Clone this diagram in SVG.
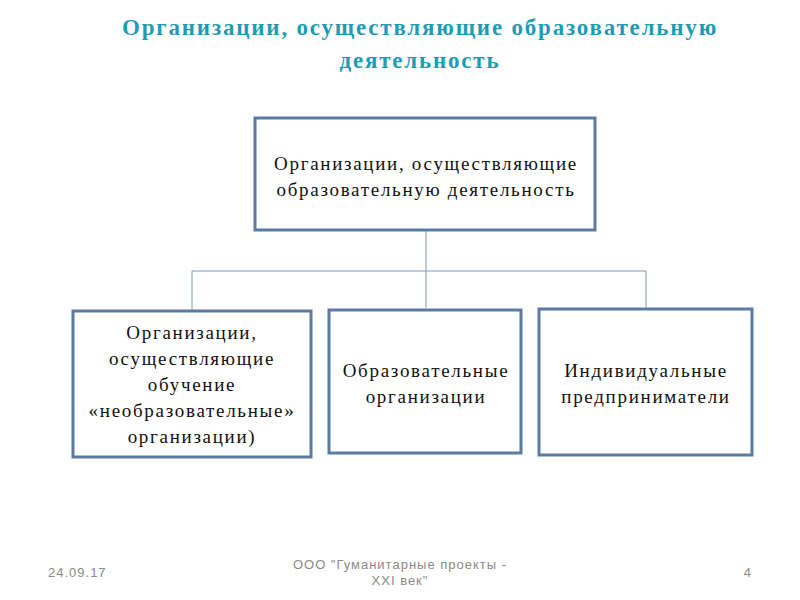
<svg xmlns="http://www.w3.org/2000/svg" width="800" height="600" viewBox="0 0 800 600">
<style>
.box{fill:#fff;stroke:#5b7ba3;stroke-width:3}
.t{font-family:"Liberation Serif",serif;font-size:19px;letter-spacing:1.7px;fill:#111;text-anchor:middle}
.ln{stroke:#7a9bb8;stroke-width:1;fill:none}
.f{font-family:"Liberation Sans",sans-serif;font-size:13px;letter-spacing:1px;fill:#8a8a8a}
.h{font-family:"Liberation Serif",serif;font-size:23px;letter-spacing:1.8px;font-weight:bold;fill:#1f9bb5;text-anchor:middle}
</style>
<rect width="800" height="600" fill="#fff"/>
<text class="h" x="420" y="35">Организации, осуществляющие образовательную</text>
<text class="h" x="420" y="68">деятельность</text>
<g id="connectors">
<path class="ln" d="M426 231V308M192 271H646M192 271V310M646 271V308"/>
</g>
<g id="root"><rect class="box" x="255" y="118" width="340" height="112"/>
<text class="t" x="426" y="170">Организации, осуществляющие</text>
<text class="t" x="426" y="196">образовательную деятельность</text></g>
<g id="n1"><rect class="box" x="73" y="311" width="238" height="146"/>
<text class="t" x="192" y="339">Организации,</text>
<text class="t" x="192" y="365">осуществляющие</text>
<text class="t" x="192" y="391">обучение</text>
<text class="t" x="192" y="417">«необразовательные»</text>
<text class="t" x="192" y="443">организации)</text></g>
<g id="n2"><rect class="box" x="329" y="310" width="192" height="143"/>
<text class="t" x="426" y="377">Образовательные</text>
<text class="t" x="426" y="403">организации</text></g>
<g id="n3"><rect class="box" x="539" y="309" width="213" height="146"/>
<text class="t" x="646" y="377">Индивидуальные</text>
<text class="t" x="646" y="403">предприниматели</text></g>
<text class="f" x="48" y="577">24.09.17</text>
<text class="f" x="400" y="569" text-anchor="middle">ООО "Гуманитарные проекты -</text>
<text class="f" x="400" y="585" text-anchor="middle">XXI век"</text>
<text class="f" x="752" y="577" text-anchor="end">4</text>
</svg>
